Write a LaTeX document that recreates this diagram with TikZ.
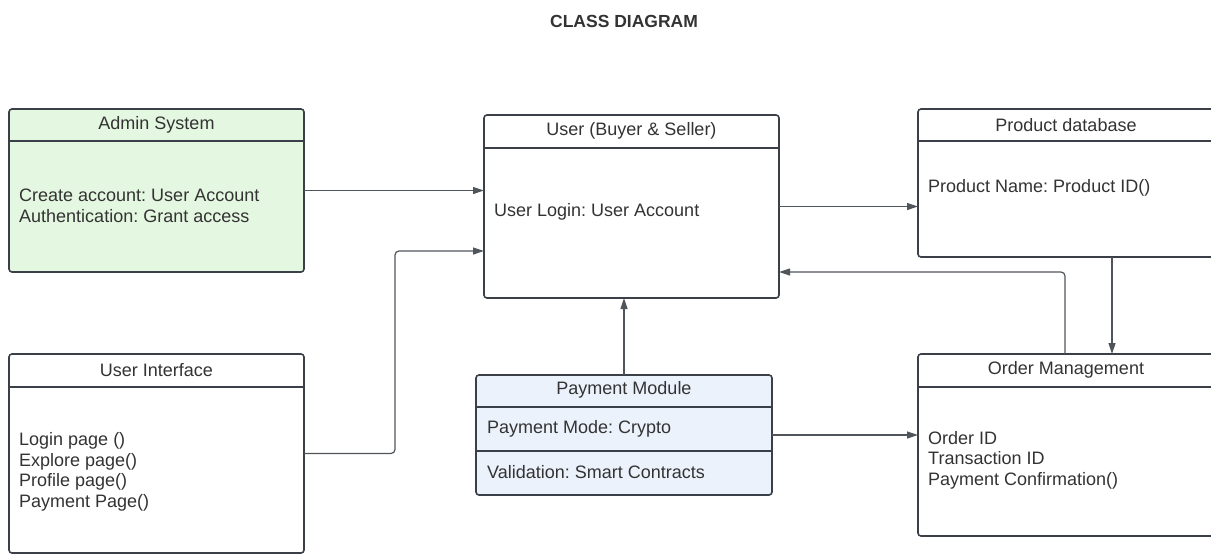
\documentclass[tikz,border=0pt]{standalone}
\usepackage{fontspec}
\setmainfont{Liberation Sans}
\usetikzlibrary{arrows.meta}
\definecolor{ink}{HTML}{3B4048}
\definecolor{wire}{HTML}{50555C}
\definecolor{txt}{HTML}{333333}
\definecolor{adminfill}{HTML}{E4F7E0}
\definecolor{payfill}{HTML}{ECF2FC}
\frenchspacing

\begin{document}
\begin{tikzpicture}[x=1pt,y=-1pt,
  classbox/.style={draw=ink, line width=1.6pt, rounded corners=3pt, fill=white,
    anchor=north west, inner sep=0pt, outer sep=0pt},
  sepline/.style={draw=ink, line width=1.6pt},
  heading/.style={text=txt, font=\fontsize{18}{20.5}\selectfont, inner sep=0pt},
  members/.style={text=txt, font=\fontsize{18}{20.5}\selectfont, align=left,
    anchor=west, inner sep=0pt},
  conn/.style={draw=wire, line width=1.2pt, -{Triangle[length=11pt,width=7pt]}},
]
\useasboundingbox (0,0) rectangle (1211,555);
\fill[white] (0,0) rectangle (1211,555);
\clip (0,0) rectangle (1211,555);

% title
\node[text=txt, font=\bfseries\fontsize{17.5}{20}\selectfont, inner sep=0pt] (title) at (624,21) {CLASS DIAGRAM};

% class boxes
\node[classbox, fill=adminfill, minimum width=295pt, minimum height=163pt] (admin) at (9,109) {};
\node[classbox, minimum width=295pt, minimum height=183pt] (user) at (484,115) {};
\node[classbox, minimum width=296pt, minimum height=148pt] (prod) at (918,109) {};
\node[classbox, minimum width=295pt, minimum height=199pt] (ui) at (9,354) {};
\node[classbox, fill=payfill, minimum width=296pt, minimum height=120pt] (pay) at (476,375) {};
\node[classbox, minimum width=296pt, minimum height=182pt] (order) at (918,354) {};

% compartment separators
\draw[sepline] (admin.west |- 0,141) -- (admin.east |- 0,141);
\draw[sepline] (user.west |- 0,148) -- (user.east |- 0,148);
\draw[sepline] (prod.west |- 0,141) -- (prod.east |- 0,141);
\draw[sepline] (ui.west |- 0,387) -- (ui.east |- 0,387);
\draw[sepline] (pay.west |- 0,407) -- (pay.east |- 0,407);
\draw[sepline] (pay.west |- 0,451) -- (pay.east |- 0,451);
\draw[sepline] (order.west |- 0,387) -- (order.east |- 0,387);

% class names
\node[heading] (adminT) at (156.5,125) {Admin System};
\node[heading] (userT) at (631.5,131) {User (Buyer \& Seller)};
\node[heading] (prodT) at (1066,125) {Product database};
\node[heading] (uiT) at (156.5,370) {User Interface};
\node[heading] (payT) at (624,390) {Payment Module};
\node[heading] (orderT) at (1066,370) {Order Management};

% members
\node[members] (adminM) at (19,206) {Create account: User Account\\Authentication: Grant access};
\node[members] (userM) at (494,212) {User Login: User Account};
\node[members] (prodM) at (928,188) {Product Name: Product ID()};
\node[members] (uiM) at (19,472) {Login page ()\\Explore page()\\Profile page()\\Payment Page()};
\node[members] (payM1) at (487,429) {Payment Mode: Crypto};
\node[members] (payM2) at (487,472) {Validation: Smart Contracts};
\node[members] (orderM) at (928,460) {Order ID\\Transaction ID\\Payment Confirmation()};

% associations
\draw[conn] (admin.east) -- (user.west |- admin.east);
\draw[conn, rounded corners=4pt] (ui.east) -| (395,251) -- (user.west |- 0,251);
\draw[conn] (user.east) -- (prod.west |- user.east);
\draw[conn] (prod.south -| 1112,0) -- (order.north -| 1112,0);
\draw[conn, rounded corners=4pt] (order.north -| 1065,0) |- (user.east |- 0,272);
\draw[conn] (pay.north) -- (pay.north |- user.south);
\draw[conn] (pay.east) -- (order.west |- pay.east);
\end{tikzpicture}
\end{document}
